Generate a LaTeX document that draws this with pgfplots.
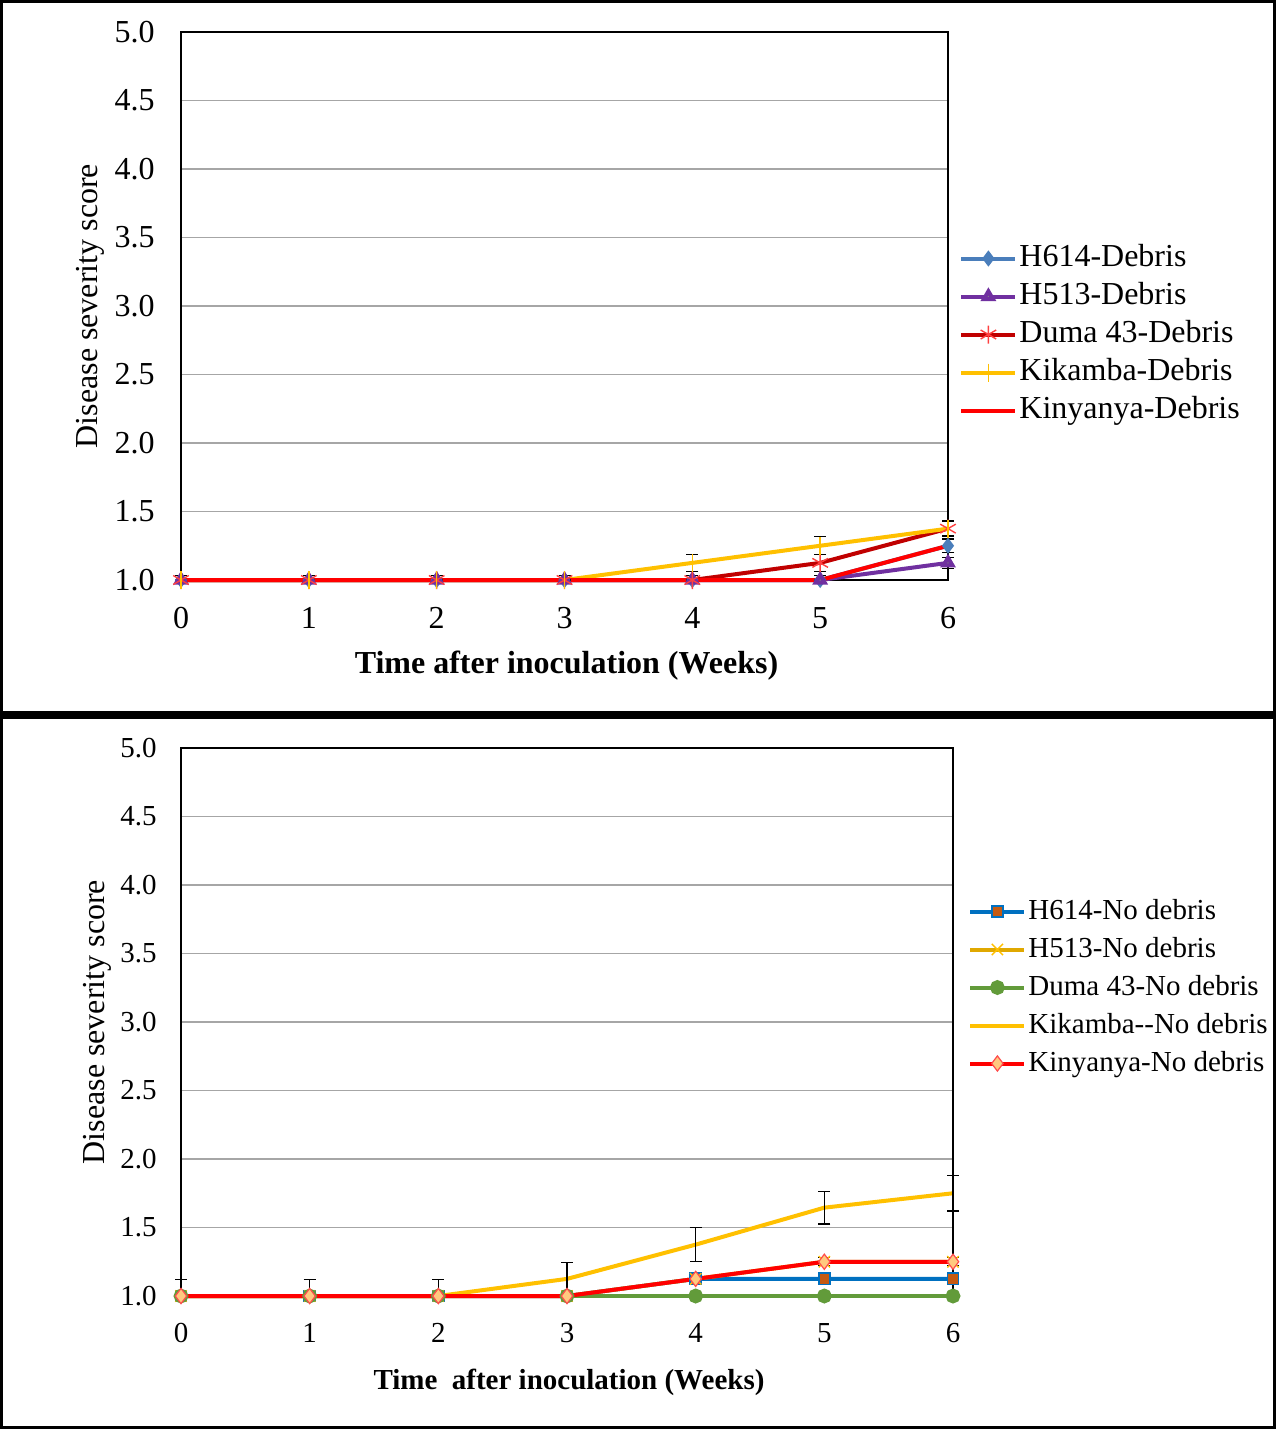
\documentclass[border=0pt]{standalone}
\usepackage{fontspec}
\setmainfont{Liberation Serif}
\usepackage{pgfplots}
\usepackage{pgfplotstable}
\pgfplotsset{compat=1.18}

\definecolor{cH614}{HTML}{4A7EBB}
\definecolor{cH513}{HTML}{7030A0}
\definecolor{cDuma}{HTML}{C00000}
\definecolor{cKik}{HTML}{FFC000}
\definecolor{cKin}{HTML}{FF0000}
\definecolor{cH614n}{HTML}{0070C0}
\definecolor{cSq}{HTML}{C55A11}
\definecolor{cH513n}{HTML}{E0A800}
\definecolor{cDuman}{HTML}{629B3A}
\definecolor{cDia}{HTML}{FFC97F}

% Top panel (Debris)
\pgfplotstableread{
x y ep em
0 1 0.03 0
1 1 0.03 0
2 1 0.03 0
3 1 0.03 0
4 1 0.03 0
5 1 0.03 0
6 1.25 0.05 0.05
}\tHsixD
\pgfplotstableread{
x y ep em
0 1 0.03 0
1 1 0.03 0
2 1 0.03 0
3 1 0.03 0
4 1 0.03 0
5 1 0.03 0
6 1.125 0.04 0.04
}\tHfiveD
\pgfplotstableread{
x y ep em
0 1 0.03 0
1 1 0.03 0
2 1 0.03 0
3 1 0.03 0
4 1 0.03 0
5 1.125 0.06 0.06
6 1.375 0.06 0.06
}\tDumaD
\pgfplotstableread{
x y ep em
0 1 0.03 0
1 1 0.03 0
2 1 0.03 0
3 1 0.03 0
4 1.125 0.06 0.06
5 1.25 0.065 0.065
6 1.375 0.05 0.05
}\tKikD
\pgfplotstableread{
x y ep em
0 1 0.03 0
1 1 0.03 0
2 1 0.03 0
3 1 0.03 0
4 1 0.03 0
5 1 0.03 0
6 1.25 0.05 0.05
}\tKinD

% Bottom panel (No debris)
\pgfplotstableread{
x y ep em
0 1 0 0
1 1 0 0
2 1 0 0
3 1 0 0
4 1.125 0 0
5 1.125 0 0
6 1.125 0 0
}\tHsixN
\pgfplotstableread{
x y ep em
0 1 0 0
1 1 0 0
2 1 0 0
3 1 0 0
4 1.125 0 0
5 1.25 0 0
6 1.25 0 0
}\tHfiveN
\pgfplotstableread{
x y ep em
0 1 0 0
1 1 0 0
2 1 0 0
3 1 0 0
4 1 0 0
5 1 0 0
6 1 0 0
}\tDumaN
\pgfplotstableread{
x y ep em
0 1 0.12 0
1 1 0.12 0
2 1 0.12 0
3 1.125 0.12 0.12
4 1.375 0.125 0.125
5 1.645 0.12 0.12
6 1.75 0.13 0.13
}\tKikN
\pgfplotstableread{
x y ep em
0 1 0 0
1 1 0 0
2 1 0 0
3 1 0 0
4 1.125 0.03 0.03
5 1.25 0.03 0.03
6 1.25 0.03 0.03
}\tKinN

\pgfplotsset{
  panel/.style={
    scale only axis,
    height=274pt,
    xmin=0, xmax=6, ymin=1, ymax=5,
    xtick={0,...,6},
    ytick={1,1.5,...,5},
    y tick label style={/pgf/number format/fixed, /pgf/number format/fixed zerofill, /pgf/number format/precision=1},
    /pgf/number format/assume math mode=true,
    ymajorgrids,
    major grid style={gray!70, line width=0.6pt},
    major tick length=0pt,
    axis line style={black, line width=1.4pt},
    tick label style={font=\fontsize{16}{19}\selectfont},
    xticklabel style={inner sep=0pt, anchor=north, yshift=-13.5pt},
    yticklabel style={inner sep=0pt, anchor=east, xshift=-13pt},
    label style={font=\fontsize{16}{19}\selectfont},
    xlabel style={at={(axis description cs:0.5,0)}, anchor=center, font=\fontsize{16}{19}\selectfont\bfseries},
    ylabel style={at={(axis description cs:0,0.5)}, anchor=center},
    clip=false,
    legend cell align=left,
    legend style={draw=none, fill=none, font=\fontsize{16}{19}\selectfont,
      nodes={text height=11.5pt, text depth=4pt, inner sep=1pt},
      row sep=1.5pt},
    legend image code/.code={\draw[mark repeat=2,mark phase=2] plot coordinates {(0pt,0pt)(13.5pt,0pt)(27pt,0pt)};},
  },
  ser/.style={line width=2pt,
    error bars/y dir=both, error bars/y explicit,
    error bars/error bar style={black, line width=0.6pt, solid},
    error bars/error mark options={black, rotate=90, mark size=3pt, line width=0.6pt}},
}

\begin{document}
\begin{tikzpicture}
\useasboundingbox (0,0) rectangle (638pt,-714.5pt);
\draw[line width=1.6pt] (0.8pt,-0.8pt) rectangle (637.2pt,-356.5pt);
\draw[line width=1.6pt] (0.8pt,-358.5pt) rectangle (637.2pt,-713.7pt);

\begin{axis}[panel, width=383.5pt, at={(90.5pt,-290pt)}, anchor=south west,
  xlabel={Time after inoculation (Weeks)},
  xlabel style={yshift=-43pt, xshift=1pt},
  ylabel={Disease severity score},
  ylabel style={yshift=45.5pt},
  legend style={at={(1,0.5)}, anchor=west, xshift=2.5pt, yshift=-14.25pt}]
\addplot+[ser, color=cH614, mark=diamond*, mark options={solid, fill=cH614, draw=cH614, scale=1.2}] table[x=x, y=y, y error plus=ep, y error minus=em] {\tHsixD};
\addlegendentry{H614-Debris}
\addplot+[ser, color=cH513, mark=triangle*, mark options={solid, fill=gray, draw=cH513, scale=1.3}] table[x=x, y=y, y error plus=ep, y error minus=em] {\tHfiveD};
\addlegendentry{H513-Debris}
\addplot+[ser, color=cDuma, mark=asterisk, mark options={solid, draw=red!75, mark size=4.5pt, line width=0.7pt}] table[x=x, y=y, y error plus=ep, y error minus=em] {\tDumaD};
\addlegendentry{Duma 43-Debris}
\addplot+[ser, color=cKik, mark=|, mark options={solid, draw=cKik, mark size=4.5pt, line width=0.8pt}] table[x=x, y=y, y error plus=ep, y error minus=em] {\tKikD};
\addlegendentry{Kikamba-Debris}
\addplot+[ser, color=cKin, mark=none] table[x=x, y=y, y error plus=ep, y error minus=em] {\tKinD};
\addlegendentry{Kinyanya-Debris}
\end{axis}

\begin{axis}[panel, width=386pt, at={(90.5pt,-648pt)}, anchor=south west,
  tick label style={font=\fontsize{14.5}{17}\selectfont},
  xlabel={Time\ \ after inoculation (Weeks)},
  xlabel style={yshift=-43pt, xshift=1pt, font=\fontsize{14.5}{17}\selectfont\bfseries},
  ylabel={Disease severity score},
  ylabel style={yshift=42pt},
  yticklabel style={xshift=1pt},
  legend style={at={(1,0.5)}, anchor=west, xshift=4.5pt, yshift=17.25pt,
    font=\fontsize{14.5}{17}\selectfont}]
\addplot+[ser, color=cH614n, mark=square*, mark options={solid, fill=cSq, draw=cH614n, mark size=2.8pt, line width=0.8pt}] table[x=x, y=y, y error plus=ep, y error minus=em] {\tHsixN};
\addlegendentry{H614-No debris}
\addplot+[ser, color=cH513n, mark=x, mark options={solid, draw=cKik, mark size=4pt, line width=0.7pt}] table[x=x, y=y, y error plus=ep, y error minus=em] {\tHfiveN};
\addlegendentry{H513-No debris}
\addplot+[ser, color=cDuman, mark=*, mark options={solid, fill=cDuman, draw=cDuman, mark size=2.7pt}] table[x=x, y=y, y error plus=ep, y error minus=em] {\tDumaN};
\addlegendentry{Duma 43-No debris}
\addplot+[ser, color=cKik, mark=none] table[x=x, y=y, y error plus=ep, y error minus=em] {\tKikN};
\addlegendentry{Kikamba-{}-No debris}
\addplot+[ser, color=cKin, mark=diamond*, mark options={solid, fill=cDia, draw=red!70, mark size=3.8pt, line width=0.6pt, /tikz/every mark/.append style={}}] table[x=x, y=y, y error plus=ep, y error minus=em] {\tKinN};
\addlegendentry{Kinyanya-No debris}
\end{axis}
\end{tikzpicture}
\end{document}
